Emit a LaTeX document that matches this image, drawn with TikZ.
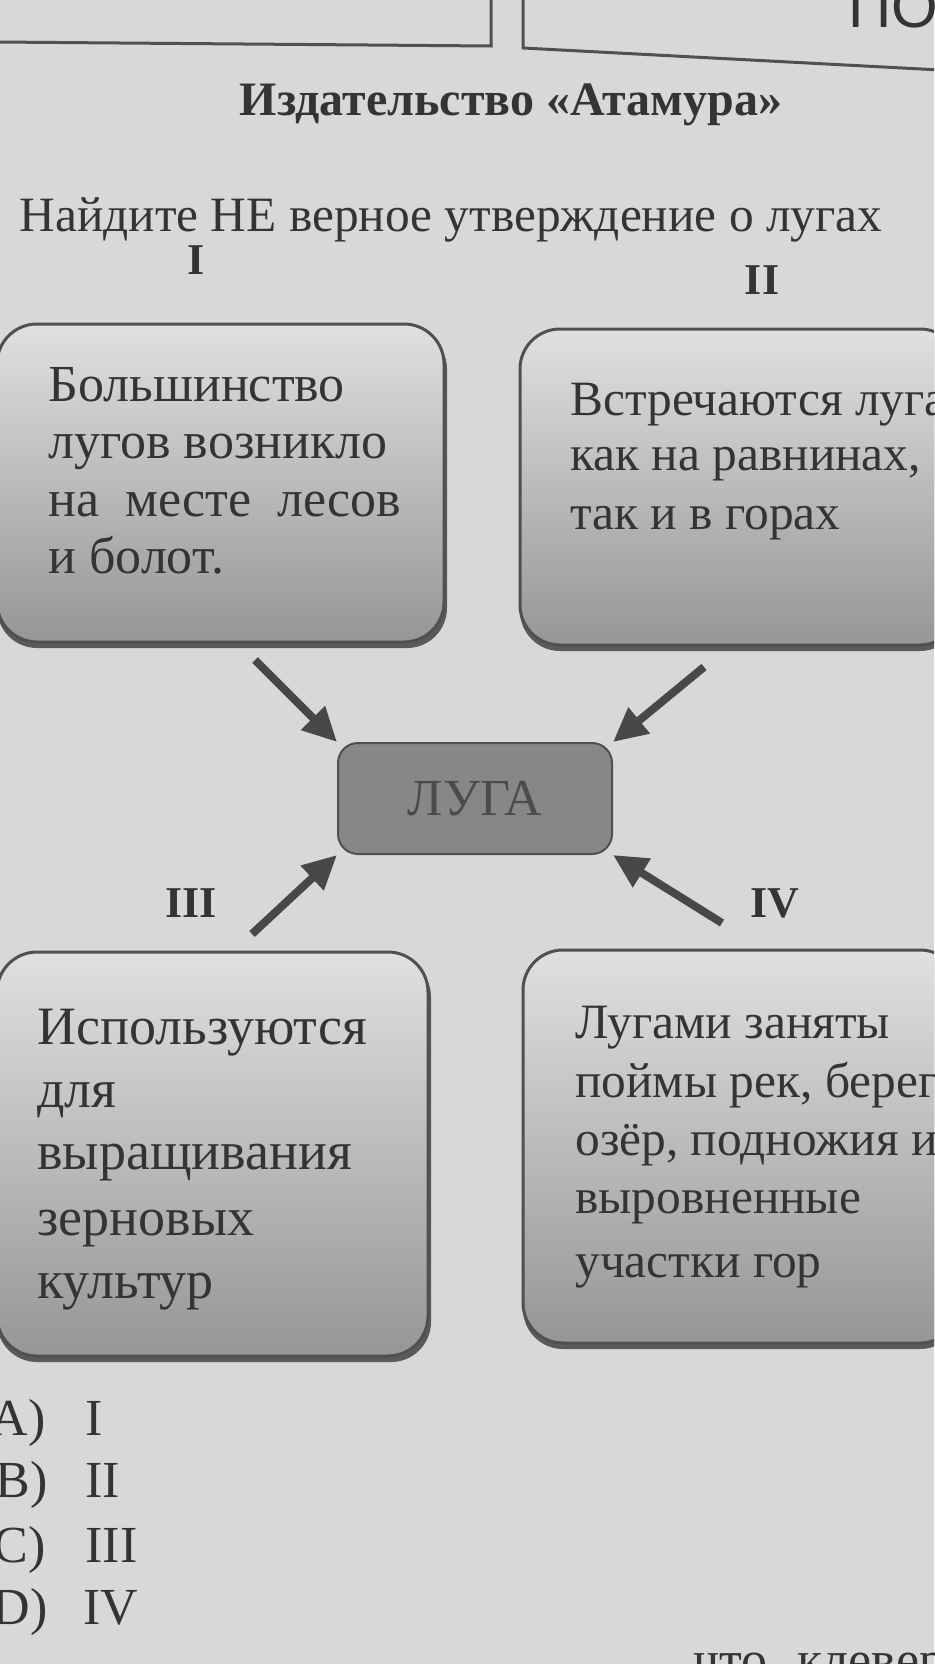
\documentclass[tikz,border=0pt]{standalone}
\usepackage{fontspec}
\setmainfont{Liberation Serif}
\newfontfamily\sansf{Liberation Sans}
\usetikzlibrary{arrows.meta}
\definecolor{paper}{RGB}{216,216,214}
\definecolor{ink}{RGB}{52,52,52}
\definecolor{edge}{RGB}{80,80,80}
\definecolor{shadec}{RGB}{90,90,90}
\definecolor{cardtop}{RGB}{224,224,222}
\definecolor{cardbot}{RGB}{150,150,150}
\definecolor{lugafill}{RGB}{135,135,135}
\definecolor{lugatext}{RGB}{75,75,75}
\definecolor{arrowc}{RGB}{72,72,72}
\begin{document}
\begin{tikzpicture}[x=0.5pt,y=-0.5pt,
  txt/.style={anchor=base west, inner sep=0pt, text=ink, font=\fontsize{26}{30}\selectfont},
  txtr/.style={anchor=base west, inner sep=0pt, text=ink, font=\fontsize{24.7}{30}\selectfont},
  txtl/.style={anchor=base west, inner sep=0pt, text=ink, font=\fontsize{27}{30}\selectfont},
  roman/.style={anchor=base, inner sep=0pt, text=ink, font=\bfseries\fontsize{22}{26}\selectfont},
  card/.style={draw=edge, line width=1.5pt, rounded corners=20pt, top color=cardtop, bottom color=cardbot},
  cardshadow/.style={fill=shadec, rounded corners=20pt},
  pageline/.style={draw=edge, line width=1.5pt},
  arr/.style={draw=arrowc, line width=4pt, -{Triangle[length=17pt,width=16pt]}},
  lugabox/.style={draw=edge, line width=1pt, fill=lugafill, rounded corners=10pt, text=lugatext,
    minimum width=137pt, minimum height=55.5pt, inner sep=0pt, font=\fontsize{26}{30}\selectfont}
]
\useasboundingbox (0,0) rectangle (934,1664);
\fill[paper] (0,0) rectangle (934,1664);
\begin{scope}
\clip (0,0) rectangle (934,1664);

% page frame fragments at the top
\draw[pageline] (-5,42) -- (491,46) -- (491,-5);
\draw[pageline] (523,-5) -- (523,48) -- (940,70);
\node[anchor=base west, inner sep=0pt, text=ink, font=\sansf\fontsize{30}{34}\selectfont] (po) at (848,28) {ПО};

% headings
\node[anchor=base, inner sep=0pt, text=ink, font=\bfseries\fontsize{24}{28}\selectfont] (publisher) at (511,116) {Издательство «Атамура»};
\node[txtr] (question) at (19,232) {Найдите НЕ верное утверждение о лугах};

\node[roman] (r1) at (196,275) {I};
\node[roman] (r2) at (762,294) {II};
\node[roman] (r3) at (191,917) {III};
\node[roman] (r4) at (775,917) {IV};

% cards
\fill[cardshadow] (-3,329) rectangle (447,648);
\path[card] (-3,324) rectangle (444,642);
\fill[cardshadow] (520,334) rectangle (960,651);
\path[card] (520,329) rectangle (960,645);
\fill[cardshadow] (-3,957) rectangle (431,1362);
\path[card] (-3,952) rectangle (428,1356);
\fill[cardshadow] (523,955) rectangle (960,1349);
\path[card] (523,950) rectangle (960,1343);

% card I text
\node[txt] (c1a) at (48,401) {Большинство};
\node[txt] (c1b) at (48,458) {лугов возникло};
\node[txt] (c1c) at (48,516) {на\ \ месте\ \ лесов};
\node[txt] (c1d) at (48,573) {и болот.};

% card II text
\node[txtr] (c2a) at (570,415) {Встречаются луга};
\node[txtr] (c2b) at (570,470) {как на равнинах,};
\node[txtr] (c2c) at (570,529) {так и в горах};

% card III text
\node[txtl] (c3a) at (37,1044) {Используются};
\node[txtl] (c3b) at (37,1107) {для};
\node[txtl] (c3c) at (37,1169) {выращивания};
\node[txtl] (c3d) at (37,1235) {зерновых};
\node[txtl] (c3e) at (37,1298) {культур};

% card IV text
\node[txtr] (c4a) at (575,1038) {Лугами заняты};
\node[txtr] (c4b) at (575,1097) {поймы рек, берег};
\node[txtr] (c4c) at (575,1155) {озёр, подножия и};
\node[txtr] (c4d) at (575,1213) {выровненные};
\node[txtr] (c4e) at (575,1277) {участки гор};

% centre
\node[lugabox] (luga) at (475,798.5) {ЛУГА};

\coordinate (s1) at (255,660);
\coordinate (s2) at (704,667);
\coordinate (s3) at (252,934);
\coordinate (s4) at (722,923);
\draw[arr] (s1) -- (luga.north west);
\draw[arr] (s2) -- (luga.north east);
\draw[arr] (s3) -- (luga.south west);
\draw[arr] (s4) -- (luga.south east);

% answers
\node[txt, anchor=base east] (aA) at (46,1435) {A)};
\node[txt] (aAv) at (85,1435) {I};
\node[txt, anchor=base east] (aB) at (48,1497) {B)};
\node[txt] (aBv) at (85,1497) {II};
\node[txt, anchor=base east] (aC) at (46,1562) {C)};
\node[txt] (aCv) at (85,1562) {III};
\node[txt, anchor=base east] (aD) at (48,1624) {D)};
\node[txt] (aDv) at (83,1624) {IV};

\node[txt, anchor=base east] (tail1) at (768,1677) {что};
\node[txt] (tail2) at (797,1677) {клевер?};
\end{scope}
\end{tikzpicture}
\end{document}
